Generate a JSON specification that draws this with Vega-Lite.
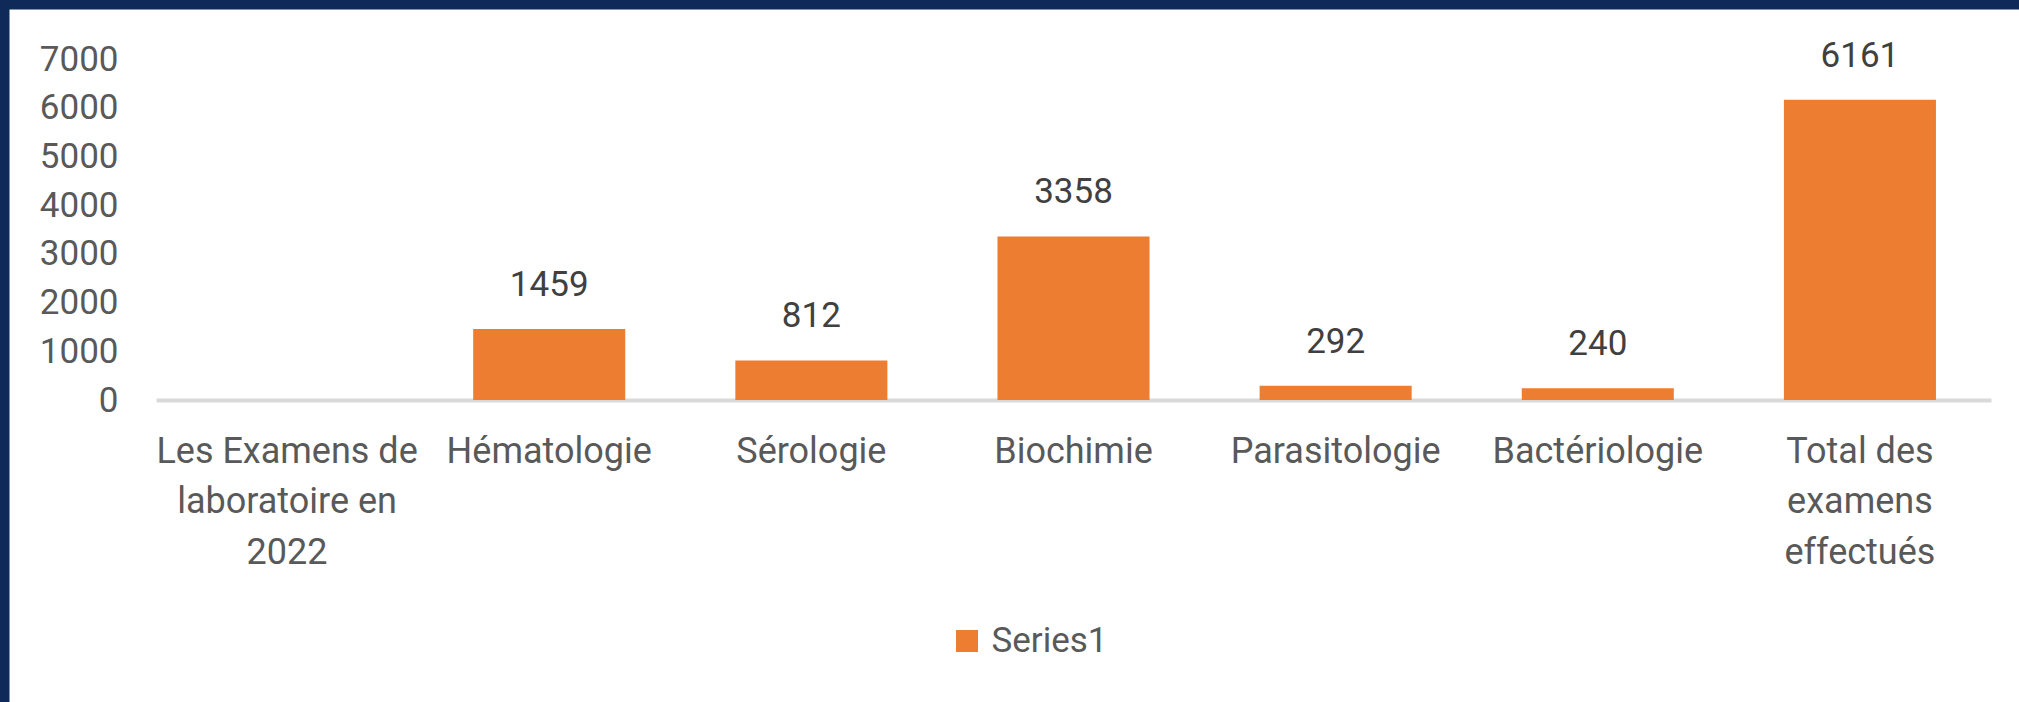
{
  "$schema": "https://vega.github.io/schema/vega-lite/v6.json",
  "width": 2029,
  "height": 712,
  "autosize": {"type": "none"},
  "padding": {"left": 0, "top": 0, "right": -10, "bottom": -10},
  "background": "white",
  "config": {
    "view": {"fill": "white", "stroke": "#0F2A58", "strokeWidth": 19},
    "font": "Roboto"
  },
  "data": {
    "values": [
      {"category": "Les Examens de laboratoire en 2022", "value": null, "series": "Series1"},
      {"category": "Hématologie", "value": 1459, "series": "Series1"},
      {"category": "Sérologie", "value": 812, "series": "Series1"},
      {"category": "Biochimie", "value": 3358, "series": "Series1"},
      {"category": "Parasitologie", "value": 292, "series": "Series1"},
      {"category": "Bactériologie", "value": 240, "series": "Series1"},
      {"category": "Total des examens effectués", "value": 6161, "series": "Series1"}
    ]
  },
  "encoding": {
    "x": {
      "field": "category",
      "type": "nominal",
      "sort": null,
      "scale": {
        "domain": ["Les Examens de laboratoire en 2022", "Hématologie", "Sérologie", "Biochimie", "Parasitologie", "Bactériologie", "Total des examens effectués"],
        "range": [156, 1991],
        "paddingInner": 0.42,
        "paddingOuter": 0.21
      },
      "axis": {
        "orient": "bottom",
        "offset": -312,
        "title": null,
        "domainColor": "#D9D9D9",
        "domainWidth": 4,
        "ticks": false,
        "tickSize": 0,
        "grid": false,
        "labelPadding": 62,
        "labelBaseline": "alphabetic",
        "labelAngle": 0,
        "labelFont": "Roboto",
        "labelFontSize": 36,
        "labelColor": "#595959",
        "labelLineHeight": 50.5,
        "labelLimit": 0,
        "labelOverlap": false,
        "labelExpr": "datum.label == 'Les Examens de laboratoire en 2022' ? ['Les Examens de', 'laboratoire en', '2022'] : datum.label == 'Total des examens effectués' ? ['Total des', 'examens', 'effectués'] : datum.label"
      }
    },
    "y": {
      "field": "value",
      "type": "quantitative",
      "scale": {"domain": [0, 7000], "range": [400, 59], "nice": false, "zero": true},
      "axis": {
        "title": null,
        "values": [0, 1000, 2000, 3000, 4000, 5000, 6000, 7000],
        "format": "d",
        "domain": false,
        "ticks": false,
        "grid": false,
        "labelPadding": 0,
        "offset": -118,
        "labelFont": "Roboto",
        "labelFontSize": 35,
        "labelColor": "#595959",
        "labelLimit": 0
      }
    }
  },
  "layer": [
    {
      "mark": {"type": "bar"},
      "encoding": {
        "color": {
          "field": "series",
          "type": "nominal",
          "scale": {"range": ["#ED7D31"]},
          "legend": {
            "orient": "none",
            "legendX": 949.5,
            "legendY": 623.5,
            "title": null,
            "symbolType": "square",
            "symbolSize": 484,
            "symbolStrokeWidth": 0,
            "labelFont": "Roboto",
            "labelFontSize": 35,
            "labelColor": "#595959",
            "labelOffset": 7,
            "padding": 0
          }
        }
      }
    },
    {
      "mark": {"type": "text", "baseline": "alphabetic", "dy": -33, "fontSize": 35, "color": "#404040", "font": "Roboto"},
      "encoding": {"text": {"field": "value", "type": "quantitative", "format": "d"}}
    }
  ]
}
